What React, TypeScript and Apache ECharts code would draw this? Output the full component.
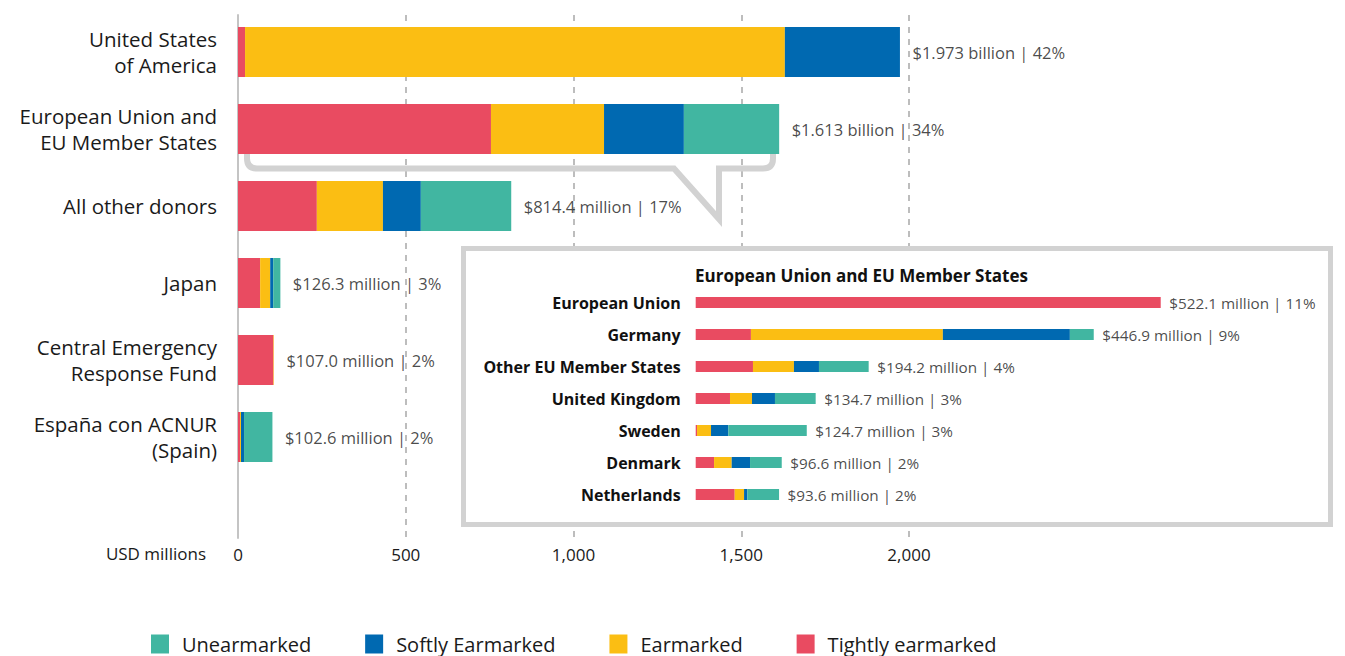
import React, { useEffect, useRef } from "react";
import * as echarts from "echarts";

const categories = [
  "United States\nof America",
  "European Union and\nEU Member States",
  "All other donors",
  "Japan",
  "Central Emergency\nResponse Fund",
  "España con ACNUR\n(Spain)",
];
const tightly = [21, 754, 235, 66, 105.5, 6];
const earmarked = [1609, 337, 197, 30, 1.5, 3];
const softly = [343, 238, 113, 9, 0, 9];
const unearmarked = [0, 284, 269.4, 21.3, 0, 84.6];
const totals = [1973, 1613, 814.4, 126.3, 107.0, 102.6];
const totalLabels = [
  "$1.973 billion | 42%",
  "$1.613 billion | 34%",
  "$814.4 million | 17%",
  "$126.3 million | 3%",
  "$107.0 million | 2%",
  "$102.6 million | 2%",
];
const xTicks = [0, 500, 1000, 1500, 2000];

const euCategories = [
  "European Union",
  "Germany",
  "Other EU Member States",
  "United Kingdom",
  "Sweden",
  "Denmark",
  "Netherlands",
];
const euTightly = [522.1, 62, 64.3, 38.5, 1.5, 20.6, 43.8];
const euEarmarked = [0, 215.5, 46, 24.7, 15.7, 19.8, 10.5];
const euSoftly = [0, 142.6, 28.1, 25.8, 19.4, 20.6, 3.7];
const euUnearmarked = [0, 26.8, 55.8, 45.7, 88.1, 35.6, 35.6];
const euTotals = [522.1, 446.9, 194.2, 134.7, 124.7, 96.6, 93.6];
const euLabels = [
  "$522.1 million | 11%",
  "$446.9 million | 9%",
  "$194.2 million | 4%",
  "$134.7 million | 3%",
  "$124.7 million | 3%",
  "$96.6 million | 2%",
  "$93.6 million | 2%",
];

const COLORS = {
  "Tightly earmarked": "#E94B61",
  Earmarked: "#FBBE13",
  "Softly Earmarked": "#0069B1",
  Unearmarked: "#41B6A1",
};
const FONT = "'Open Sans', 'Noto Sans', sans-serif";

const calloutPath =
  "M 247 153 L 247 158.5 Q 247 168.5 257 168.5 L 674 168.5 L 719 219 L 719 168.5 L 763 168.5 Q 773 168.5 773 158.5 L 773 153";
echarts.graphic.registerShape("callout", (echarts.graphic as any).extendPath(calloutPath, {}));

export default function App() {
  const ref = useRef<HTMLDivElement>(null);
  useEffect(() => {
    if (!ref.current) return;
    document.body.style.margin = "0";
    const chart = echarts.init(ref.current, null, { renderer: "svg" });

    const mainStack = [
      ["Tightly earmarked", tightly],
      ["Earmarked", earmarked],
      ["Softly Earmarked", softly],
      ["Unearmarked", unearmarked],
    ] as [string, number[]][];
    const euStack = [
      ["Tightly earmarked", euTightly],
      ["Earmarked", euEarmarked],
      ["Softly Earmarked", euSoftly],
      ["Unearmarked", euUnearmarked],
    ] as [string, number[]][];

    const series: any[] = [];
    mainStack.forEach(([name, data]) => {
      series.push({
        type: "bar",
        name,
        stack: "main",
        xAxisIndex: 0,
        yAxisIndex: 0,
        barWidth: 50,
        data,
        itemStyle: { color: (COLORS as any)[name] },
        z: 3,
      });
    });
    series.push({
      type: "scatter",
      xAxisIndex: 0,
      yAxisIndex: 0,
      symbolSize: 1,
      itemStyle: { color: "rgba(0,0,0,0)" },
      data: totals.map((v, i) => [v, i]),
      label: {
        show: true,
        position: "right",
        distance: 12,
        formatter: (p: any) => totalLabels[p.dataIndex],
        fontFamily: FONT,
        fontSize: 16.5,
        color: "#1a1a1a",
      },
      z: 4,
    });
    euStack.forEach(([name, data]) => {
      series.push({
        type: "bar",
        name,
        stack: "eu",
        xAxisIndex: 2,
        yAxisIndex: 2,
        barWidth: 11,
        data,
        itemStyle: { color: (COLORS as any)[name] },
        z: 5,
      });
    });
    series.push({
      type: "scatter",
      xAxisIndex: 2,
      yAxisIndex: 2,
      symbolSize: 1,
      itemStyle: { color: "rgba(0,0,0,0)" },
      data: euTotals.map((v, i) => [v, i]),
      label: {
        show: true,
        position: "right",
        distance: 8,
        formatter: (p: any) => euLabels[p.dataIndex],
        fontFamily: FONT,
        fontSize: 15.3,
        color: "#1a1a1a",
      },
      z: 6,
    });

    chart.setOption({
      animation: false,
      tooltip: { show: false },
      grid: [
        { left: 238, top: 13.5, width: 671, height: 462 },
        { left: 238, top: 15, width: 671, height: 523 },
        { left: 695.7, top: 286.5, width: 534.4, height: 224 },
      ],
      xAxis: [
        { gridIndex: 0, type: "value", min: 0, max: 2000, show: false },
        {
          gridIndex: 1,
          type: "value",
          min: xTicks[0],
          max: xTicks[xTicks.length - 1],
          interval: 500,
          axisLine: { show: false },
          axisTick: { show: false },
          splitLine: {
            show: true,
            lineStyle: { color: "#a8a8a8", width: 1.5, type: [6, 6] },
          },
          axisLabel: {
            fontFamily: FONT,
            fontSize: 17,
            color: "#1a1a1a",
            margin: 8,
            formatter: (v: number) => v.toLocaleString("en-US"),
          },
        },
        { gridIndex: 2, type: "value", min: 0, max: 600, show: false },
      ],
      yAxis: [
        {
          gridIndex: 0,
          type: "category",
          inverse: true,
          data: categories,
          axisLine: { show: false },
          axisTick: { show: false },
          splitLine: { show: false },
          axisLabel: {
            fontFamily: FONT,
            fontSize: 20.5,
            lineHeight: 26,
            color: "#1a1a1a",
            margin: 21,
            padding: [0, 0, 3, 0],
          },
        },
        {
          gridIndex: 1,
          type: "value",
          min: 0,
          max: 1,
          axisLine: { show: true, lineStyle: { color: "#c4c4c4", width: 2 } },
          axisTick: { show: false },
          axisLabel: { show: false },
          splitLine: { show: false },
        },
        {
          gridIndex: 2,
          type: "category",
          inverse: true,
          data: euCategories,
          z: 5,
          axisLine: { show: false },
          axisTick: { show: false },
          splitLine: { show: false },
          axisLabel: {
            fontFamily: FONT,
            fontSize: 16,
            fontWeight: "bold",
            color: "#111",
            margin: 15,
          },
        },
      ],
      legend: {
        left: 146,
        top: 629,
        itemWidth: 18,
        itemHeight: 19,
        itemGap: 54,
        icon: "rect",
        data: ["Unearmarked", "Softly Earmarked", "Earmarked", "Tightly earmarked"],
        textStyle: {
          fontFamily: FONT,
          fontSize: 20,
          color: "#1a1a1a",
          padding: [0, 0, 0, 8],
        },
        selectedMode: false,
      },
      graphic: [
        {
          type: "callout",
          x: 0,
          y: 0,
          z: 1,
          style: { fill: "none", stroke: "#d2d2d2", lineWidth: 6, lineJoin: "miter" },
        },
        {
          type: "rect",
          z: 1,
          shape: { x: 463.5, y: 248.5, width: 867, height: 276 },
          style: { fill: "#ffffff", stroke: "#d2d2d2", lineWidth: 5 },
        },
        {
          type: "text",
          z: 6,
          x: 695,
          y: 275,
          style: {
            text: "European Union and EU Member States",
            font: "bold 17px 'Open Sans', sans-serif",
            fill: "#111",
            textVerticalAlign: "middle",
            verticalAlign: "middle",
          },
        },
        {
          type: "text",
          z: 6,
          x: 206,
          y: 553,
          style: {
            text: "USD millions",
            font: "17px 'Open Sans', sans-serif",
            fill: "#1a1a1a",
            align: "right",
            textAlign: "right",
            verticalAlign: "middle",
            textVerticalAlign: "middle",
          },
        },
      ],
      series,
    });
    return () => chart.dispose();
  }, []);
  return <div ref={ref} style={{ width: 1345, height: 656, background: "#fff" }} />;
}
